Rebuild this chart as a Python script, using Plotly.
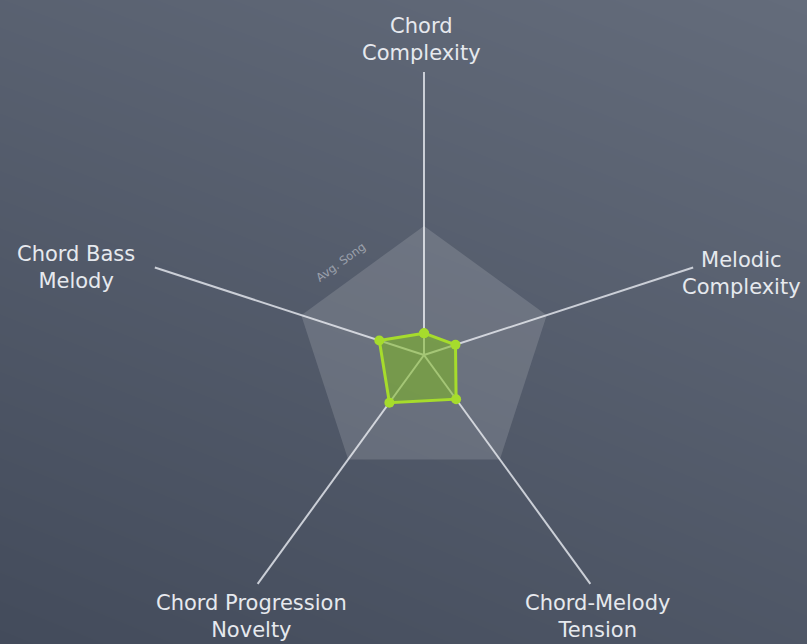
import plotly.graph_objects as go

# ---- data ----
categories = ["Chord Complexity", "Melodic Complexity", "Chord-Melody Tension",
              "Chord Progression Novelty", "Chord Bass Melody"]
label_text = ["Chord<br>Complexity", "Melodic<br>Complexity", "Chord-Melody<br>Tension",
              "Chord Progression<br>Novelty", "Chord Bass<br>Melody"]
avg_song = [45.6, 45.6, 45.6, 45.6, 45.6]
this_song = [7.7, 11.7, 19.3, 20.8, 16.6]
reference_name = "Avg. Song"

# ---- style ----
FONT = "DejaVu Sans"
TEXT_COLOR = "#e6e9ee"
SPOKE_COLOR = "#cbcfd7"
GREEN_LINE = "#a6dc2c"
GREEN_FILL = "rgba(128,186,34,0.55)"

# label anchor positions (paper fractions) for each category
label_pos = [(0.5217, 0.938), (0.919, 0.576), (0.740, 0.042),
             (0.312, 0.042), (0.094, 0.585)]

fig = go.Figure()

# background gradient (decorative)
fig.add_trace(go.Heatmap(
    z=[[0.0, 0.35], [0.68, 1.0]], x=[0, 1], y=[0, 1],
    zsmooth="best", showscale=False, hoverinfo="skip",
    colorscale=[[0, "#434b5b"], [1, "#646c7b"]],
    xaxis="x", yaxis="y",
))

closed = lambda v: list(v) + [v[0]]

fig.add_trace(go.Scatterpolar(
    r=closed(avg_song), theta=closed(categories), mode="lines",
    fill="toself", fillcolor="rgba(255,255,255,0.14)",
    line=dict(width=0, color="rgba(0,0,0,0)"), hoverinfo="skip",
    name=reference_name,
))
fig.add_trace(go.Scatterpolar(
    r=closed(this_song), theta=closed(categories), mode="lines+markers",
    fill="toself", fillcolor=GREEN_FILL,
    line=dict(width=3, color=GREEN_LINE),
    marker=dict(size=10, color=GREEN_LINE), hoverinfo="skip",
))

fig.update_layout(
    width=807, height=644,
    margin=dict(l=0, r=0, t=0, b=0),
    paper_bgcolor="#4f5767",
    plot_bgcolor="rgba(0,0,0,0)",
    showlegend=False,
    xaxis=dict(domain=[0, 1], range=[0, 1], visible=False, fixedrange=True),
    yaxis=dict(domain=[0, 1], range=[0, 1], visible=False, fixedrange=True),
    polar=dict(
        domain=dict(x=[0.1747, 0.8761], y=[0.0093, 0.8882]),
        bgcolor="rgba(0,0,0,0)",
        gridshape="linear",
        radialaxis=dict(range=[0, 100], visible=False, showgrid=False),
        angularaxis=dict(
            categoryarray=categories, categoryorder="array",
            rotation=90, direction="clockwise",
            showgrid=True, gridcolor=SPOKE_COLOR, gridwidth=2,
            showline=False, showticklabels=False, ticks="",
        ),
    ),
)

annotations = []
for txt, (px, py) in zip(label_text, label_pos):
    annotations.append(dict(
        text=txt, x=px, y=py, xref="paper", yref="paper",
        xanchor="center", yanchor="middle", align="center", showarrow=False,
        font=dict(family=FONT, size=21, color=TEXT_COLOR),
    ))
annotations.append(dict(
    text=reference_name, x=0.4225, y=0.593, xref="paper", yref="paper",
    xanchor="center", yanchor="middle", showarrow=False, textangle=-36,
    font=dict(family=FONT, size=11.5, color="rgba(225,229,236,0.5)"),
))
fig.update_layout(annotations=annotations)

fig.write_html("out.html", config={"displayModeBar": False},
               post_script="document.body.style.margin='0';document.body.style.padding='0';")
